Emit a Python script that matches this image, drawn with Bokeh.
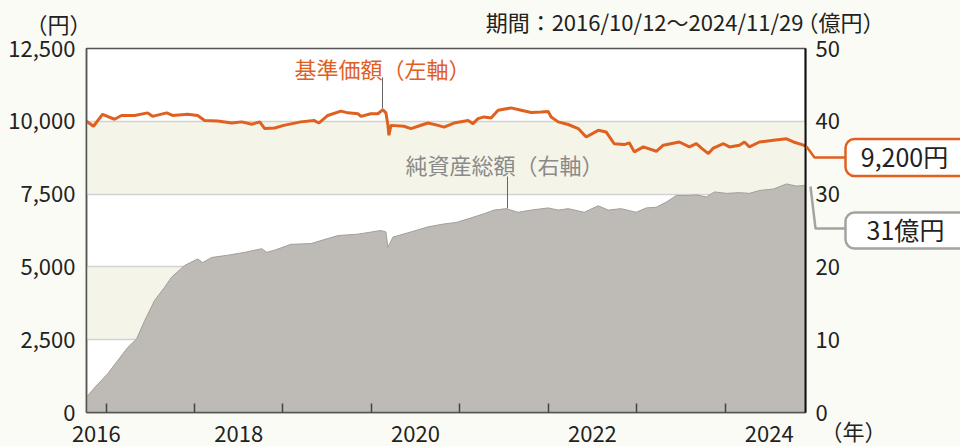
from bokeh.plotting import figure
from bokeh.core.properties import value
from bokeh.models import (Range1d, LinearAxis, FixedTicker, NumeralTickFormatter,
                          CustomJSTickFormatter, BoxAnnotation, Label, Arrow)
from bokeh.embed import file_html
from bokeh.resources import INLINE

# ---- data (decimal years) ----
nav_t = [2016.779, 2016.858, 2016.960, 2017.096, 2017.175, 2017.323, 2017.470, 2017.526, 2017.685, 2017.753,
         2017.923, 2018.036, 2018.115, 2018.263, 2018.421, 2018.534, 2018.648, 2018.738, 2018.795, 2018.908,
         2019.010, 2019.203, 2019.350, 2019.406, 2019.508, 2019.656, 2019.735, 2019.848, 2019.882, 2019.995,
         2020.075, 2020.131, 2020.165, 2020.188, 2020.199, 2020.222, 2020.369, 2020.448, 2020.528, 2020.641,
         2020.754, 2020.822, 2020.935, 2021.094, 2021.150, 2021.207, 2021.275, 2021.354, 2021.434, 2021.581,
         2021.694, 2021.807, 2021.921, 2022.000, 2022.034, 2022.113, 2022.226, 2022.340, 2022.430, 2022.566,
         2022.657, 2022.747, 2022.860, 2022.917, 2022.974, 2023.076, 2023.223, 2023.302, 2023.483, 2023.597,
         2023.676, 2023.733, 2023.812, 2023.868, 2023.982, 2024.050, 2024.163, 2024.219, 2024.276, 2024.389,
         2024.548, 2024.695, 2024.774, 2024.888, 2024.910]
nav_v = [10000, 9830, 10240, 10070, 10200, 10200, 10290, 10170, 10290, 10200,
         10240, 10200, 10030, 10010, 9940, 9980, 9900, 9980, 9750, 9770,
         9860, 9980, 10030, 9940, 10200, 10350, 10290, 10260, 10170, 10260,
         10260, 10400, 10290, 9860, 9520, 9860, 9830, 9750, 9830, 9940,
         9860, 9800, 9940, 10030, 9920, 10090, 10150, 10110, 10380, 10460,
         10380, 10300, 10320, 10340, 10150, 9980, 9890, 9750, 9460, 9690,
         9630, 9230, 9200, 9260, 8950, 9120, 8970, 9180, 9290, 9120,
         9230, 9080, 8890, 9080, 9230, 9120, 9180, 9290, 9120, 9290,
         9350, 9400, 9290, 9180, 9150]

aum_t = [2016.779, 2016.870, 2017.017, 2017.130, 2017.243, 2017.345, 2017.436, 2017.549, 2017.662, 2017.742,
         2017.889, 2018.036, 2018.093, 2018.195, 2018.376, 2018.568, 2018.761, 2018.818, 2018.908, 2019.089,
         2019.316, 2019.622, 2019.848, 2020.109, 2020.165, 2020.188, 2020.245, 2020.448, 2020.641, 2020.822,
         2020.958, 2021.094, 2021.275, 2021.388, 2021.524, 2021.660, 2021.807, 2022.000, 2022.113, 2022.226,
         2022.408, 2022.566, 2022.679, 2022.826, 2022.996, 2023.109, 2023.223, 2023.336, 2023.449, 2023.597,
         2023.676, 2023.789, 2023.880, 2024.016, 2024.163, 2024.276, 2024.389, 2024.548, 2024.695, 2024.808,
         2024.910]
aum_v = [2.1, 3.4, 5.3, 7.1, 8.9, 10.1, 12.6, 15.4, 17.2, 18.6,
         20.2, 21.1, 20.6, 21.3, 21.6, 22.0, 22.5, 22.0, 22.3, 23.1,
         23.2, 24.3, 24.5, 25.0, 24.8, 22.7, 24.1, 24.8, 25.5, 25.9,
         26.1, 26.6, 27.3, 27.8, 28.0, 27.5, 27.8, 28.1, 27.8, 28.0,
         27.5, 28.4, 27.8, 28.0, 27.5, 28.1, 28.2, 28.9, 29.8, 29.8,
         29.9, 29.6, 30.3, 30.1, 30.2, 30.1, 30.5, 30.7, 31.4, 31.1,
         31.2]

year_ticks = [2017, 2018, 2019, 2020, 2021, 2022, 2023, 2024]
year_label_pos = [2016.89, 2018.5, 2020.5, 2022.5, 2024.5]
left_ticks = [0, 2500, 5000, 7500, 10000, 12500]
right_ticks = [0, 10, 20, 30, 40, 50]
grid_ticks = [2500, 5000, 7500, 10000]
bands = [(2500, 5000), (7500, 10000)]
nav_last_label = "9,200円"
aum_last_label = "31億円"

T0, T1 = 2016.779, 2024.910

# ---- styles / geometry ----
FONT = "Noto Sans CJK JP"
ORANGE = "#e0601f"
GRAYTXT = "#8a8a8a"
CALLGRAY = "#a3a3a3"
AREA = "#bebab5"
AREA_EDGE = "#a29e99"
BG = "#fbfbf5"
BAND = "#f5f4e8"
W, H = 960, 446
FL, FR, FT, FB = 86, 155, 48, 34
FW, FH = W - FL - FR, H - FT - FB


def SX(px):  # page px -> frame-relative screen x
    return px - FL


def SY(py):  # page px -> frame-relative screen y (from bottom)
    return (FT + FH) - py


p = figure(width=W, height=H, x_range=Range1d(T0, T1), y_range=Range1d(0, 12500),
           output_backend="svg", toolbar_location=None,
           min_border_left=FL, min_border_right=FR, min_border_top=FT, min_border_bottom=FB,
           background_fill_color="white", border_fill_color=BG)
p.extra_y_ranges = {"aum": Range1d(0, 50)}
p.outline_line_color = "#555555"
p.outline_line_width = 1.5

p.xgrid.visible = False
p.ygrid.ticker = FixedTicker(ticks=grid_ticks)
p.ygrid.grid_line_color = "#d2d2d2"
p.ygrid.grid_line_width = 1.5

for lo, hi in bands:
    p.add_layout(BoxAnnotation(bottom=lo, top=hi, fill_color=BAND, fill_alpha=1.0,
                               line_color=None, level="image"))

p.varea(x=aum_t, y1=0, y2=aum_v, y_range_name="aum", fill_color=AREA)
p.line(aum_t, aum_v, y_range_name="aum", line_color=AREA_EDGE, line_width=1)
p.line(nav_t, nav_v, line_color=ORANGE, line_width=3)

# axes
ya = p.yaxis[0]
ya.ticker = FixedTicker(ticks=left_ticks)
ya.formatter = NumeralTickFormatter(format="0,0")
ya.major_tick_in = 0
ya.major_tick_out = 0
ya.minor_tick_in = 0
ya.minor_tick_out = 0
ya.axis_line_color = "#555555"
ya.axis_line_width = 1.5
ya.major_label_standoff = 11
ya.major_label_text_font = FONT
ya.major_label_text_font_size = "22px"
ya.major_label_text_color = "#222222"

ra = LinearAxis(y_range_name="aum", ticker=FixedTicker(ticks=right_ticks))
ra.major_tick_in = 0
ra.major_tick_out = 0
ra.minor_tick_in = 0
ra.minor_tick_out = 0
ra.axis_line_color = "#111111"
ra.axis_line_width = 2
ra.major_label_standoff = 10
ra.major_label_text_font = FONT
ra.major_label_text_font_size = "22px"
ra.major_label_text_color = "#222222"
p.add_layout(ra, "right")

xa = p.xaxis[0]
xa.ticker = FixedTicker(ticks=year_label_pos, minor_ticks=year_ticks)
xa.formatter = CustomJSTickFormatter(code="return Math.floor(tick).toString()")
xa.major_tick_in = 0
xa.major_tick_out = 0
xa.minor_tick_in = 9
xa.minor_tick_out = 0
xa.minor_tick_line_color = "#444444"
xa.minor_tick_line_width = 1.5
xa.axis_line_color = "#555555"
xa.axis_line_width = 1.5
xa.major_label_standoff = 13
xa.major_label_text_font = FONT
xa.major_label_text_font_size = "22px"
xa.major_label_text_color = "#222222"


def label(px, py, text, color="#222222", size="22px", align="center"):
    p.add_layout(Label(x=SX(px), y=SY(py), x_units="screen", y_units="screen",
                       text=text, text_align=align, text_baseline="middle",
                       text_font=FONT, text_font_size=size, text_color=color))


def seg(x0, y0, x1, y1, color, width):
    p.add_layout(Arrow(x_start=SX(x0), y_start=SY(y0), x_end=SX(x1), y_end=SY(y1),
                       start_units="screen", end_units="screen",
                       start=None, end=None, line_color=color, line_width=width))


# series annotations (inside the frame)
label(382, 67, "基準価額（左軸）", color=ORANGE)
seg(382, 77, 382, 108, "#666666", 1)
label(504, 163, "純資産総額（右軸）", color=GRAYTXT)
seg(507, 176, 507, 208, "#666666", 1)

# ---- transparent overlay canvas (separate root) for texts outside the plot frame ----
ov = figure(width=W, height=H, x_range=Range1d(0, W), y_range=Range1d(0, H),
            output_backend="svg", toolbar_location=None,
            x_axis_location=None, y_axis_location=None,
            min_border=0, min_border_left=0, min_border_right=0, min_border_top=0, min_border_bottom=0,
            background_fill_color=None, border_fill_color=None, outline_line_color=None)
ov.xgrid.visible = False
ov.ygrid.visible = False
ov.styles = {"position": "absolute", "left": "0px", "top": "0px"}


def otext(px, py, text, color="#222222", size="22px", align="center"):
    ov.text(x=[px], y=[H - py], text=[text], text_align=align, text_baseline="middle",
            text_font=value(FONT), text_font_size=size, text_color=color)


def oline(xs, ys, color, width):
    ov.line(x=xs, y=[H - y for y in ys], line_color=color, line_width=width)


def obox(x0, x1, y0, y1, color):
    ov.quad(left=x0, right=x1, top=H - y0, bottom=H - y1, fill_color="white",
            line_color=color, line_width=2.5, border_radius=9)


otext(58, 22, "（円）")
otext(803, 20, "期間：2016/10/12～2024/11/29", align="right")
otext(840, 20, "（億円）")
otext(853, 429, "（年）")

oline([806, 814, 846], [146, 157, 157], ORANGE, 2.5)
oline([810, 815, 846], [186, 228, 228], CALLGRAY, 2.5)
obox(845, 985, 138.5, 175.5, ORANGE)
obox(845, 985, 212, 248, CALLGRAY)
otext(904, 155, nav_last_label, size="25px")
otext(905, 228, aum_last_label, size="25px")

html = file_html([p, ov], INLINE, title="chart")
html = html.replace("<head>", "<head><style>html,body{background:%s;overflow:hidden;}</style>" % BG, 1)
open("out.html", "w").write(html)
